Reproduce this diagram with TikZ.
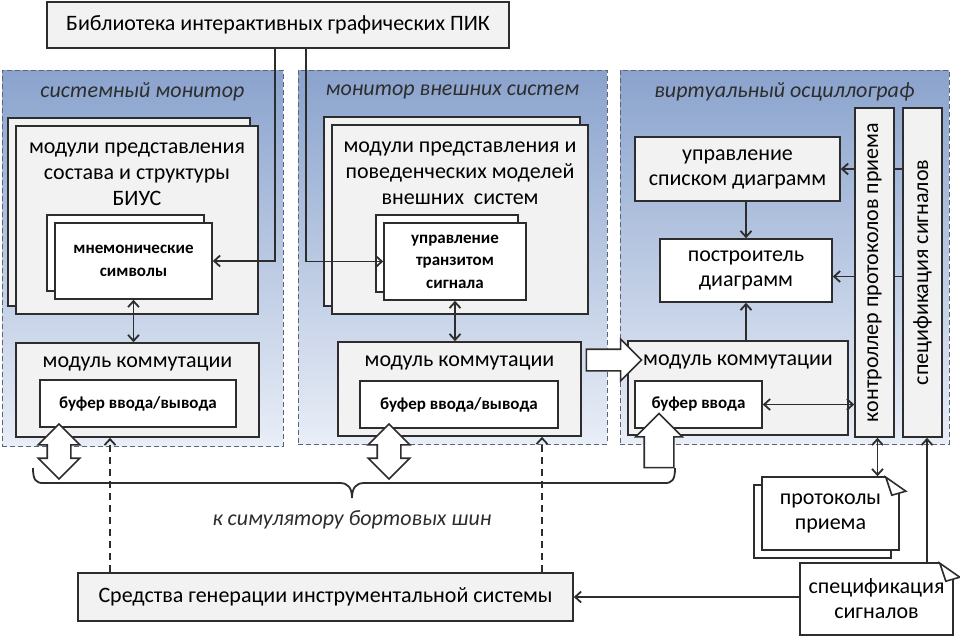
\documentclass[tikz,border=0pt]{standalone}
\usepackage{fontspec}
\setmainfont{Carlito}
\usetikzlibrary{calc}
\usetikzlibrary{positioning}
\usetikzlibrary{shadows}
\usetikzlibrary{shapes.arrows}
\usetikzlibrary{arrows.meta}

\definecolor{linec}{RGB}{45,45,45}
\definecolor{boxgray}{RGB}{242,242,242}
\definecolor{panelline}{RGB}{90,100,115}
\definecolor{paneltop}{RGB}{138,163,205}
\definecolor{panelbot}{RGB}{233,238,247}

\begin{document}
\begin{tikzpicture}[x=1pt, y=-1pt,
    >={Straight Barb[length=6pt,width=11pt]},
    panel/.style={rectangle, draw=panelline, line width=1pt, dash pattern=on 5pt off 3pt, top color=paneltop, bottom color=panelbot, inner sep=0pt},
    ptitle/.style={font=\fontsize{22}{26}\selectfont\itshape, text=linec},
    box/.style={rectangle, draw=linec, line width=1.6pt, fill=boxgray, inner sep=0pt, align=center, font=\fontsize{22}{25}\selectfont},
    wbox/.style={box, fill=white},
    sbox/.style={wbox, font=\fontsize{17}{22.5}\selectfont\bfseries},
    stackup/.style={copy shadow={shadow xshift=-8pt, shadow yshift=8pt, fill=#1, draw=linec, line width=1.6pt}},
    stackdown/.style={copy shadow={shadow xshift=-8pt, shadow yshift=-8pt, fill=#1, draw=linec, line width=1.6pt}},
    boxhead/.style={font=\fontsize{22}{26}\selectfont, align=center, inner sep=0pt},
    link/.style={draw=linec, line width=1.8pt},
    dlink/.style={link, dash pattern=on 7pt off 5pt},
    hollow/.style={draw=linec, line width=1.6pt, fill=white, inner xsep=0pt}
]
    \useasboundingbox (0,0) rectangle (960,637);

    \node[panel, minimum width=281pt, minimum height=376pt] (sysmon) at (142.5,258) {};
    \node[panel, minimum width=309pt, minimum height=374pt] (extmon) at (452.5,257) {};
    \node[panel, minimum width=329pt, minimum height=374pt] (osc) at (784.5,257) {};
    \node[ptitle] (sysmonT) at ([yshift=-22pt]sysmon.north) {системный монитор};
    \node[ptitle] (extmonT) at ([yshift=-22pt]extmon.north) {монитор внешних систем};
    \node[ptitle] (oscT) at ([yshift=-22pt]osc.north) {виртуальный осциллограф};

    \node[box, minimum width=462pt, minimum height=46pt] (lib) at (278,25) {Библиотека интерактивных графических ПИК};
    \node[box, minimum width=495pt, minimum height=48pt] (gen) at (325.5,597) {Средства генерации инструментальной системы};

    \node[box, stackup=boxgray, minimum width=242pt, minimum height=188pt] (mods1) at (137,220) {};
    \node[boxhead, below=17pt of mods1.north] (mods1T) {модули представления\\состава и структуры\\БИУС};
    \node[sbox, stackup=white, minimum width=157pt, minimum height=76pt] (mnem) at (133.5,261) {мнемонические\\символы};
    \node[box, minimum width=243pt, minimum height=94pt] (comm1) at (137.5,390) {};
    \node[boxhead] (comm1T) at ([yshift=-22pt]comm1.north) {модуль коммутации};
    \node[sbox, minimum width=196pt, minimum height=47pt] (buf1) at (138,403.5) {буфер ввода/вывода};

    \node[box, stackup=boxgray, minimum width=256pt, minimum height=189pt] (mods2) at (460,219.5) {};
    \node[boxhead, below=17pt of mods2.north] (mods2T) {модули представления и\\поведенческих моделей\\внешних~ систем};
    \node[sbox, stackup=white, minimum width=142pt, minimum height=77pt] (trans) at (455,261.5) {управление\\транзитом\\сигнала};
    \node[box, minimum width=243pt, minimum height=94pt] (comm2) at (459.5,389) {};
    \node[boxhead] (comm2T) at ([yshift=-22pt]comm2.north) {модуль коммутации};
    \node[sbox, minimum width=198pt, minimum height=47pt] (buf2) at (459,404.5) {буфер ввода/вывода};

    \node[box, minimum width=205pt, minimum height=64pt] (upr) at (737.5,169) {управление\\списком диаграмм};
    \node[wbox, minimum width=172pt, minimum height=63pt] (stroit) at (746,270.5) {построитель\\диаграмм};
    \node[box, minimum width=220pt, minimum height=94pt] (comm3) at (738,388) {};
    \node[boxhead] (comm3T) at ([yshift=-22pt]comm3.north) {модуль коммутации};
    \node[sbox, minimum width=127pt, minimum height=47pt] (buf3) at (698.5,404.5) {буфер ввода};
    \node[box, minimum width=39pt, minimum height=329pt] (ctrl) at (874.5,272.5) {\rotatebox{90}{контроллер протоколов приема}};
    \node[box, minimum width=39pt, minimum height=329pt] (sigspec) at (922.5,272.5) {\rotatebox{90}{спецификация сигналов}};

    \node[wbox, stackdown=white, minimum width=137pt, minimum height=73pt] (proto) at (830.5,513.5) {протоколы\\приема};
    \node[wbox, minimum width=153pt, minimum height=72pt] (specdoc) at (876.5,599) {спецификация\\сигналов};
    \foreach \d in {proto,specdoc} {
        \fill[white] ([xshift=-15pt,yshift=2pt]\d.north east) rectangle ([xshift=2pt,yshift=-18pt]\d.north east);
        \draw[link, line width=1.6pt, fill=white] ([xshift=-14pt,yshift=-1pt]\d.north east) -- ([xshift=6pt,yshift=-15pt]\d.north east) -- ([xshift=-8pt,yshift=-19pt]\d.north east) -- cycle;
    }

    \draw[link, ->] (lib.south -| 275,0) |- (mnem.east);
    \draw[link, ->] (lib.south -| 306,0) |- (trans.west);
    \draw[link, <->] (mnem.south) -- (mnem.south |- comm1.north);
    \draw[link, <->] (trans.south) -- (trans.south |- comm2.north);
    \draw[link, ->] (stroit.north |- upr.south) -- (stroit.north);
    \draw[link, ->] (stroit.south |- comm3.north) -- (stroit.south);
    \coordinate (stroitIn) at ([yshift=-6pt]stroit.east);
    \draw[link] (sigspec.west |- upr.east) -- (ctrl.east |- upr.east);
    \draw[link, ->] (ctrl.west |- upr.east) -- (upr.east);
    \draw[link] (sigspec.west |- stroitIn) -- (ctrl.east |- stroitIn);
    \draw[link, ->] (ctrl.west |- stroitIn) -- (stroitIn);
    \draw[link, <->] (buf3.east) -- (buf3.east -| ctrl.west);
    \draw[link, <->] ([xshift=3pt]ctrl.south) -- ([xshift=3pt]ctrl.south |- proto.north);
    \draw[link, ->] ([xshift=4.5pt]sigspec.south |- specdoc.north) -- ([xshift=4.5pt]sigspec.south);
    \draw[link, ->] (specdoc.west |- gen.east) -- (gen.east);
    \draw[dlink, ->] (gen.north -| 110,0) -- (110,0 |- comm1.south);
    \draw[dlink, ->] (gen.north -| 542,0) -- (542,0 |- comm2.south);

    \node[hollow, double arrow, inner ysep=11pt, double arrow head extend=9pt, minimum height=55pt, rotate=90] (bus1) at (59,451.5) {};
    \node[hollow, double arrow, inner ysep=11pt, double arrow head extend=9pt, minimum height=55pt, rotate=90] (bus2) at (389,451.5) {};
    \node[hollow, single arrow, inner ysep=10pt, single arrow head extend=10pt, minimum height=55pt] (pass) at (608.5,360) {};
    \node[hollow, single arrow, inner ysep=14pt, single arrow head extend=8.5pt, minimum height=54pt, rotate=90] (bus3) at (659,448) {};

    \coordinate (busL) at (33,468);
    \coordinate (busR) at (675,468);
    \coordinate (busTip) at (352,498);
    \draw[link] (busL) .. controls ($(busL)+(0,12)$) and ($(busL)+(3,15)$) .. ($(busL)+(10,15)$)
        -- ($(busTip)+(-12,-15)$) .. controls ($(busTip)+(-4,-15)$) and ($(busTip)+(0,-10)$) .. (busTip)
        .. controls ($(busTip)+(0,-10)$) and ($(busTip)+(4,-15)$) .. ($(busTip)+(12,-15)$)
        -- ($(busR)+(-10,15)$) .. controls ($(busR)+(-3,15)$) and ($(busR)+(0,12)$) .. (busR);
    \node[ptitle] (busT) at (352,520) {к симулятору бортовых шин};
\end{tikzpicture}
\end{document}
